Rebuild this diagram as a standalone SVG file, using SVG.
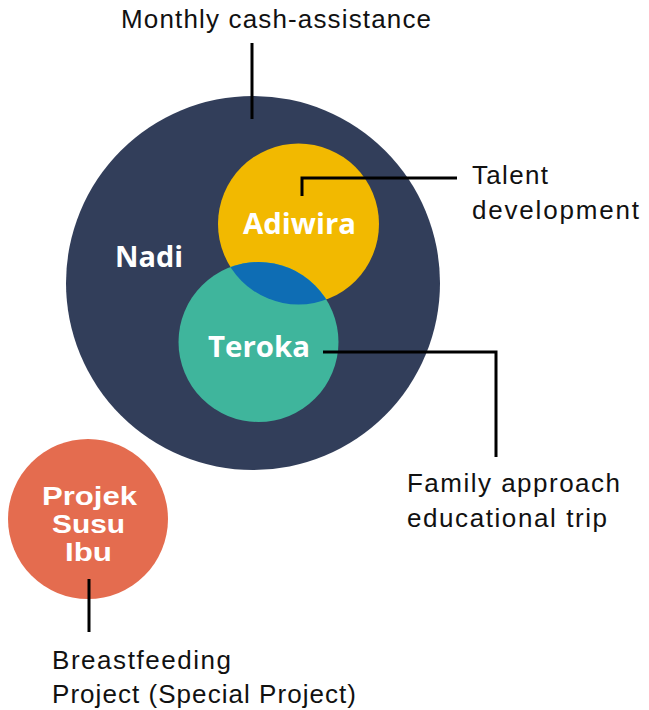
<svg xmlns="http://www.w3.org/2000/svg" width="649" height="710" viewBox="0 0 649 710">
<style>
.lbl{font-family:"Liberation Sans",Arial,sans-serif;font-size:26px;fill:#111}
.nm{font-family:"Open Sans","Liberation Sans",sans-serif;font-weight:700;fill:#fff;text-anchor:middle}
.pj{font-family:"Liberation Sans",Arial,sans-serif;font-weight:700;fill:#fff;text-anchor:middle;font-size:25px}
.ln{stroke:#000;stroke-width:3;fill:none}
</style>
<defs>
<clipPath id="yc"><circle cx="298.5" cy="224" r="80.5"/></clipPath>
</defs>
<rect width="649" height="710" fill="#fff"/>
<g id="nadi">
<circle cx="253" cy="283" r="187" fill="#323e5a"/>
<text class="nm" x="149" y="267" font-size="28" textLength="68" lengthAdjust="spacingAndGlyphs">Nadi</text>
</g>
<g id="adiwira">
<circle cx="298.5" cy="224" r="80.5" fill="#f2b900"/>
</g>
<g id="teroka">
<circle cx="258.5" cy="342" r="80" fill="#3fb59c"/>
<circle cx="258.5" cy="342" r="80" fill="#0e6db4" clip-path="url(#yc)"/>
<text class="nm" x="259" y="357" font-size="29" textLength="102" lengthAdjust="spacingAndGlyphs">Teroka</text>
</g>
<g id="adiwira-label">
<text class="nm" x="299.5" y="234" font-size="29" textLength="113" lengthAdjust="spacingAndGlyphs">Adiwira</text>
</g>
<g id="projek">
<circle cx="88" cy="519" r="80" fill="#e46c4f"/>
<text class="pj" x="89.5" y="505" textLength="95" lengthAdjust="spacingAndGlyphs">Projek</text>
<text class="pj" x="88.5" y="533" textLength="73" lengthAdjust="spacingAndGlyphs">Susu</text>
<text class="pj" x="88.5" y="561" textLength="47" lengthAdjust="spacingAndGlyphs">Ibu</text>
</g>
<g id="connectors">
<path class="ln" d="M252 43V119"/>
<path class="ln" d="M302 196V178H457"/>
<path class="ln" d="M323 352H496V457"/>
<path class="ln" d="M89 579V632"/>
</g>
<g id="labels">
<text class="lbl" x="121" y="28" textLength="310">Monthly cash-assistance</text>
<text class="lbl" x="472" y="184" textLength="76">Talent</text>
<text class="lbl" x="472" y="219" textLength="167">development</text>
<text class="lbl" x="407" y="492" textLength="213">Family approach</text>
<text class="lbl" x="407" y="527" textLength="200">educational trip</text>
<text class="lbl" x="52" y="669" textLength="179">Breastfeeding</text>
<text class="lbl" x="52" y="703" textLength="304">Project (Special Project)</text>
</g>
</svg>
